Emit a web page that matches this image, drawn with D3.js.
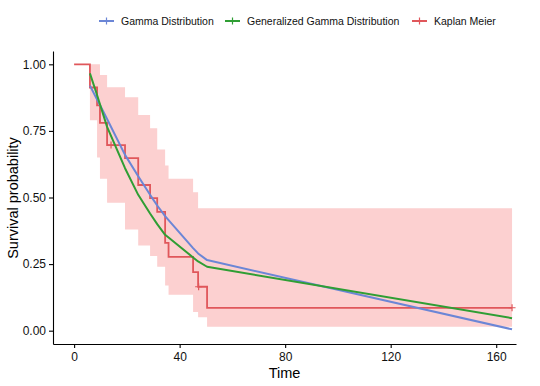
<!DOCTYPE html>
<html>
<head>
<meta charset="utf-8">
<script src="https://cdn.jsdelivr.net/npm/d3@7"></script>
<style>
  body { margin: 0; background: #fff; }
  text { font-family: "Liberation Sans", Arial, sans-serif; }
</style>
</head>
<body>
<svg id="chart" width="540" height="386"></svg>
<script>
// Kaplan Meier estimate (step function) with its confidence band
var kmTime  = [0, 6, 8.7, 9.8, 12.5, 19.3, 24.3, 28.8, 31.5, 34.5, 35.8, 45.1, 47, 50.4, 166];
var kmSurv  = [1, 0.913, 0.846, 0.78, 0.697, 0.648, 0.547, 0.498, 0.446, 0.33, 0.277, 0.22, 0.165, 0.086, 0.086];
var kmLower = [1, 0.79, 0.65, 0.57, 0.48, 0.38, 0.32, 0.28, 0.24, 0.17, 0.135, 0.07, 0.05, 0.015, 0.015];
var kmUpper = [1, 1, 1, 0.96, 0.914, 0.876, 0.81, 0.76, 0.68, 0.62, 0.57, 0.52, 0.46, 0.46, 0.46];
var censorTime = [14, 47.2, 166];
var censorSurv = [0.697, 0.165, 0.086];

// fitted parametric curves, evaluated at the event times
var fitTime     = [6, 8.7, 9.8, 12.5, 19.3, 24.3, 28.8, 31.5, 34.5, 35.8, 45.1, 47, 50.4, 166];
var gammaSurv   = [0.92, 0.868, 0.847, 0.795, 0.66, 0.58, 0.51, 0.47, 0.43, 0.415, 0.31, 0.29, 0.265, 0.005];
var genGammaSurv= [0.966, 0.885, 0.85, 0.765, 0.61, 0.51, 0.44, 0.40, 0.36, 0.35, 0.275, 0.26, 0.24, 0.047];

var xTicks = [0, 40, 80, 120, 160];
var yTicks = [0, 0.25, 0.5, 0.75, 1];
var seriesNames = ["Gamma Distribution", "Generalized Gamma Distribution", "Kaplan Meier"];
var seriesColors = ["#6b86d6", "#2f9e34", "#e0575b"];

var svg = d3.select("#chart");
var margin = {left: 53, right: 24, top: 51, bottom: 42};
var width = 540, height = 386;

var x = d3.scaleLinear().domain([-8, 167.5]).range([margin.left, width - margin.right]);
var y = d3.scaleLinear().domain([-0.05, 1.05]).range([height - margin.bottom, margin.top]);

// confidence band
var band = kmTime.map(function(t, i) { return {t: t, lo: kmLower[i], hi: kmUpper[i]}; });
svg.append("path")
    .datum(band)
    .attr("fill", "#fcd0d0")
    .attr("d", d3.area()
        .curve(d3.curveStepAfter)
        .x(function(d) { return x(d.t); })
        .y0(function(d) { return y(d.lo); })
        .y1(function(d) { return y(d.hi); }));

// KM step line
var km = kmTime.map(function(t, i) { return {t: t, s: kmSurv[i]}; });
svg.append("path")
    .datum(km)
    .attr("fill", "none")
    .attr("stroke", seriesColors[2])
    .attr("stroke-width", 1.8)
    .attr("d", d3.line()
        .curve(d3.curveStepAfter)
        .x(function(d) { return x(d.t); })
        .y(function(d) { return y(d.s); }));

// censor marks
svg.selectAll(".censor")
    .data(censorTime.map(function(t, i) { return {t: t, s: censorSurv[i]}; }))
    .enter().append("path")
    .attr("class", "censor")
    .attr("stroke", seriesColors[2])
    .attr("stroke-width", 1.2)
    .attr("d", function(d) {
        var cx = x(d.t), cy = y(d.s);
        return "M" + (cx - 3.5) + "," + cy + "H" + (cx + 3.5) + "M" + cx + "," + (cy - 3.5) + "V" + (cy + 3.5);
    });

// fitted curves
var fitLine = d3.line()
    .x(function(d) { return x(d.t); })
    .y(function(d) { return y(d.s); });

[gammaSurv, genGammaSurv].forEach(function(vals, k) {
    svg.append("path")
        .datum(fitTime.map(function(t, i) { return {t: t, s: vals[i]}; }))
        .attr("fill", "none")
        .attr("stroke", seriesColors[k])
        .attr("stroke-width", 2)
        .attr("stroke-linejoin", "round")
        .attr("d", fitLine);
});

// axes
var xAxis = svg.append("g")
    .attr("transform", "translate(0," + (height - margin.bottom) + ")")
    .call(d3.axisBottom(x).tickValues(xTicks).tickSize(4).tickPadding(4).tickSizeOuter(0));
var yAxis = svg.append("g")
    .attr("transform", "translate(" + margin.left + ",0)")
    .call(d3.axisLeft(y).tickValues(yTicks).tickFormat(d3.format(".2f")).tickSize(4).tickPadding(3).tickSizeOuter(0));

[xAxis, yAxis].forEach(function(g) {
    g.select(".domain").attr("stroke", "#000").attr("stroke-width", 1.1);
    g.selectAll(".tick line").attr("stroke", "#000").attr("stroke-width", 1.1);
    g.selectAll(".tick text").attr("fill", "#111").style("font-size", "12px").style("font-family", "Liberation Sans, Arial, sans-serif");
});

svg.append("text")
    .attr("x", (margin.left + width - margin.right) / 2)
    .attr("y", 378)
    .attr("text-anchor", "middle")
    .style("font-size", "14.5px")
    .text("Time");

svg.append("text")
    .attr("transform", "translate(18," + 198 + ") rotate(-90)")
    .attr("text-anchor", "middle")
    .style("font-size", "14.5px")
    .text("Survival probability");

// legend
var legendX = [99, 225, 412];
var legend = svg.selectAll(".legend")
    .data(seriesNames)
    .enter().append("g")
    .attr("class", "legend")
    .attr("transform", function(d, i) { return "translate(" + legendX[i] + ",21)"; });

legend.append("line")
    .attr("x1", 0).attr("x2", 15)
    .attr("stroke", function(d, i) { return seriesColors[i]; })
    .attr("stroke-width", 2);
legend.append("line")
    .attr("x1", 7.5).attr("x2", 7.5).attr("y1", -3.5).attr("y2", 3.5)
    .attr("stroke", function(d, i) { return seriesColors[i]; })
    .attr("stroke-width", 1.2);
legend.append("text")
    .attr("x", 22)
    .attr("y", 4)
    .style("font-size", "10.5px")
    .attr("fill", "#111")
    .text(function(d) { return d; });
</script>
</body>
</html>
